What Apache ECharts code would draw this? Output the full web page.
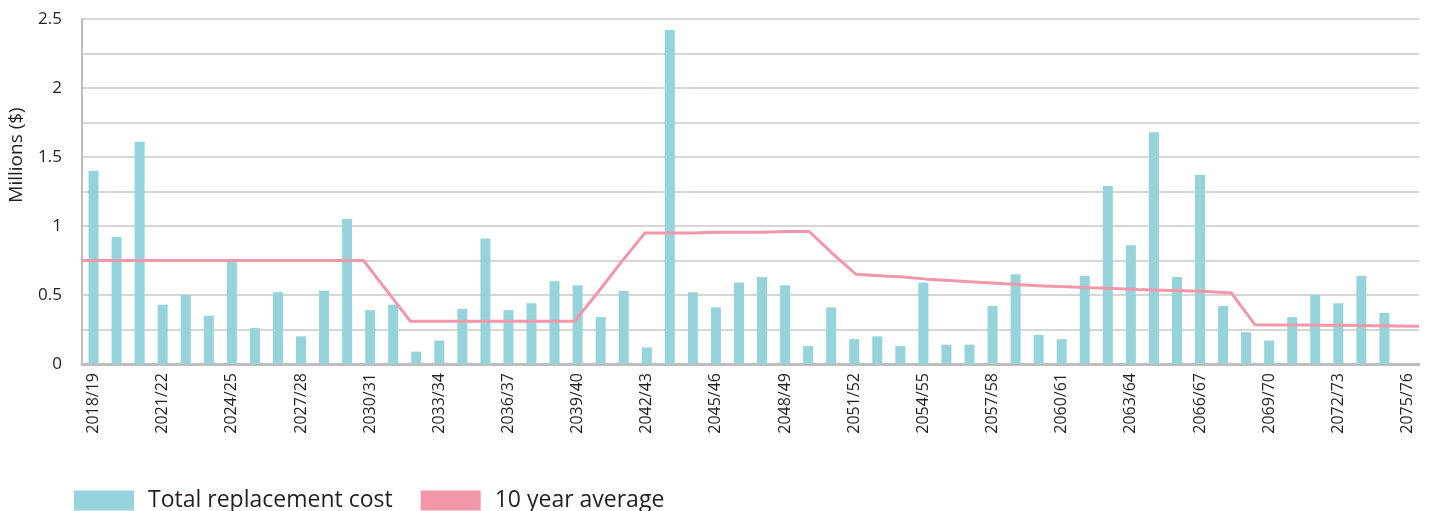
<!DOCTYPE html>
<html>
<head>
<meta charset="utf-8">
<script src="https://cdn.jsdelivr.net/npm/echarts@6/dist/echarts.min.js"></script>
<style>
  html, body { margin: 0; padding: 0; background: #ffffff; }
  #chart { width: 1429px; height: 511px; }
</style>
</head>
<body>
<div id="chart"></div>
<script>
// Financial years shown on the category axis
const years = [
  '2018/19','2019/20','2020/21','2021/22','2022/23','2023/24','2024/25','2025/26','2026/27','2027/28',
  '2028/29','2029/30','2030/31','2031/32','2032/33','2033/34','2034/35','2035/36','2036/37','2037/38',
  '2038/39','2039/40','2040/41','2041/42','2042/43','2043/44','2044/45','2045/46','2046/47','2047/48',
  '2048/49','2049/50','2050/51','2051/52','2052/53','2053/54','2054/55','2055/56','2056/57','2057/58',
  '2058/59','2059/60','2060/61','2061/62','2062/63','2063/64','2064/65','2065/66','2066/67','2067/68',
  '2068/69','2069/70','2070/71','2071/72','2072/73','2073/74','2074/75','2075/76'
];

// Total replacement cost per year, millions of dollars
const replacementCost = [
  1.40, 0.92, 1.61, 0.43, 0.50, 0.35, 0.74, 0.26, 0.52, 0.20,
  0.53, 1.05, 0.39, 0.43, 0.09, 0.17, 0.40, 0.91, 0.39, 0.44,
  0.60, 0.57, 0.34, 0.53, 0.12, 2.42, 0.52, 0.41, 0.59, 0.63,
  0.57, 0.13, 0.41, 0.18, 0.20, 0.13, 0.59, 0.14, 0.14, 0.42,
  0.65, 0.21, 0.18, 0.64, 1.29, 0.86, 1.68, 0.63, 1.37, 0.42,
  0.23, 0.17, 0.34, 0.50, 0.44, 0.64, 0.37, null
];

// 10 year rolling average, millions of dollars
const tenYearAverage = [
  0.75, 0.75, 0.75, 0.75, 0.75, 0.75, 0.75, 0.75, 0.75, 0.75,
  0.75, 0.75, 0.75, 0.53, 0.31, 0.31, 0.31, 0.31, 0.31, 0.31,
  0.31, 0.31, 0.52, 0.74, 0.95, 0.95, 0.95, 0.955, 0.955, 0.955,
  0.96, 0.96, 0.80, 0.65, 0.64, 0.63, 0.615, 0.605, 0.595, 0.585,
  0.575, 0.565, 0.56, 0.553, 0.547, 0.54, 0.535, 0.53, 0.525, 0.515,
  0.285, 0.283, 0.282, 0.281, 0.28, 0.278, 0.276, 0.274
];

const FONT = 'Open Sans';
const TEXT = '#231f20';

const chart = echarts.init(document.getElementById('chart'), null, { renderer: 'canvas' });

chart.setOption({
  backgroundColor: '#ffffff',
  animation: false,
  textStyle: { fontFamily: FONT },
  grid: { left: 82, right: 10, top: 19, bottom: 147, containLabel: false },
  legend: {
    left: 69,
    top: 484,
    icon: 'rect',
    itemWidth: 60,
    itemHeight: 20,
    itemGap: 28,
    textStyle: { fontFamily: FONT, fontSize: 23, color: TEXT, padding: [0, 0, 0, 9] },
    data: ['Total replacement cost', '10 year average']
  },
  graphic: [{
    type: 'text',
    x: 17,
    y: 155,
    rotation: Math.PI / 2,
    style: {
      text: 'Millions ($)',
      fontFamily: FONT,
      fontSize: 19,
      fill: TEXT,
      align: 'center',
      verticalAlign: 'middle'
    }
  }],
  xAxis: [
    {
      type: 'category',
      data: years,
      boundaryGap: true,
      axisLine: { show: true, lineStyle: { color: '#bdbdbf', width: 3 } },
      axisTick: { show: false },
      axisLabel: {
        interval: 2,
        rotate: 90,
        margin: 9,
        fontFamily: FONT,
        fontSize: 16,
        color: TEXT
      },
      splitLine: { show: false }
    },
    {
      // edge-to-edge axis carrying the average line
      type: 'category',
      data: years,
      boundaryGap: false,
      show: false
    }
  ],
  yAxis: {
    type: 'value',
    min: 0,
    max: 2.5,
    interval: 0.25,
    axisLine: { show: true, lineStyle: { color: '#bdbdbf', width: 2 } },
    axisTick: { show: false },
    axisLabel: {
      margin: 20,
      fontFamily: FONT,
      fontSize: 17,
      color: TEXT,
      formatter: function (v) {
        const twice = v * 2;
        if (Math.abs(twice - Math.round(twice)) > 1e-9) return '';
        return String(Math.round(v * 100) / 100);
      }
    },
    splitLine: { show: true, lineStyle: { color: '#c8c8ca', width: 1.5 } }
  },
  series: [
    {
      name: 'Total replacement cost',
      type: 'bar',
      xAxisIndex: 0,
      data: replacementCost,
      barWidth: 10,
      itemStyle: { color: '#94d4da' }
    },
    {
      name: '10 year average',
      type: 'line',
      xAxisIndex: 1,
      data: tenYearAverage,
      showSymbol: false,
      symbol: 'none',
      lineStyle: { color: '#f297a9', width: 3 },
      itemStyle: { color: '#f297a9' },
      z: 3
    }
  ]
});
</script>
</body>
</html>
